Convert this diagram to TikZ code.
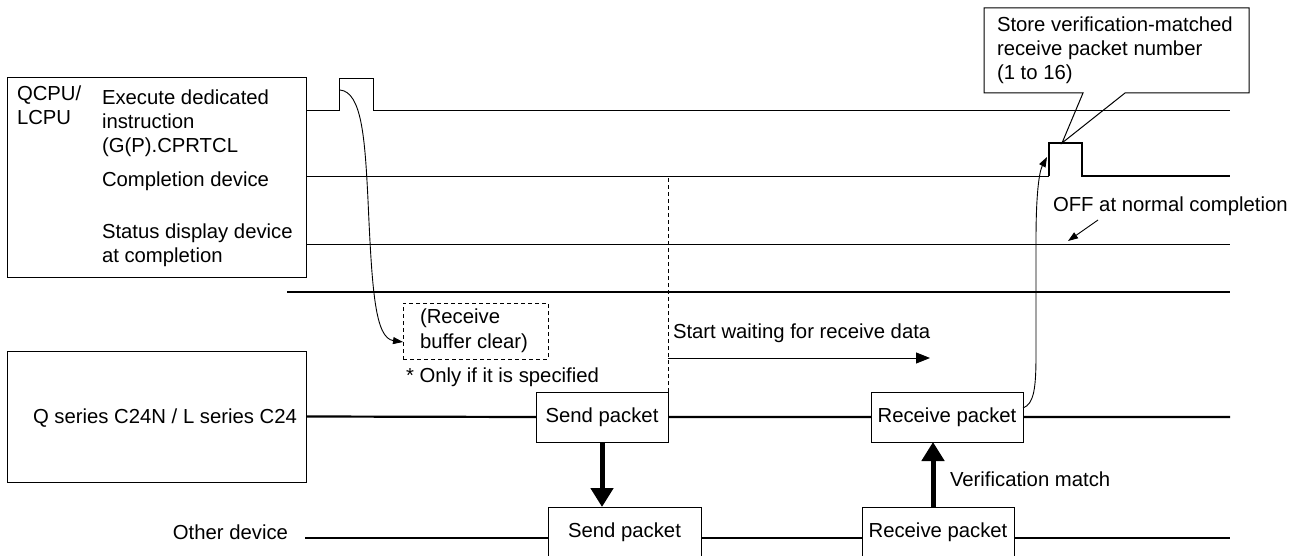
\documentclass[tikz,border=0pt]{standalone}
\usepackage{fontspec}
\setmainfont{Liberation Sans}
\usetikzlibrary{arrows.meta}
\begin{document}
\begin{tikzpicture}[x=1pt,y=-1pt,
  every node/.style={font=\fontsize{20.3}{24}\selectfont, inner sep=0pt, outer sep=0pt},
  lbl/.style={anchor=base west},
  lblr/.style={anchor=base east},
  frame/.style={draw, line width=1pt, anchor=north west},
  pkt/.style={draw, line width=1pt, fill=white, minimum height=50pt},
  sig/.style={line width=0.9pt},
  bus/.style={line width=2.2pt},
  bigarrow/.style={line width=5pt, -{Triangle[width=22pt,length=19pt]}},
  thinarrow/.style={line width=0.9pt, -{Triangle[width=11pt,length=14pt]}},
  smallarrow/.style={line width=0.9pt, -{Triangle[width=7pt,length=10pt]}},
  dashpat/.style={line width=0.9pt, dash pattern=on 4pt off 3pt}
]
\useasboundingbox (0,0) rectangle (1301,556);

% CPU frame and labels
\node[frame, minimum width=299pt, minimum height=199pt] (cpu) at (7,78) {};
\node[lbl] (q1) at (17,101) {QCPU/};
\node[lbl] (q2) at (17,125) {LCPU};
\node[lbl] (e1) at (102,105) {Execute dedicated};
\node[lbl] (e2) at (102,129) {instruction};
\node[lbl] (e3) at (102,153) {(G(P).CPRTCL};
\node[lbl] (c1) at (102,187) {Completion device};
\node[lbl] (s1) at (102,238) {Status display device};
\node[lbl] (s2) at (102,262) {at completion};

% signals
\coordinate (exS) at (306,110);
\coordinate (exE) at (1230,110);
\coordinate (exP) at (340,90);
\draw[sig] (exS) -- (339,110) -- (339,78) -- (373,78) -- (373,110) -- (exE);
\coordinate (cpS) at (306,176);
\coordinate (cpE) at (1230,176);
\coordinate (cpP) at (1047,157);
\coordinate (cpT) at (1062,143);
\draw[sig] (cpS) -- (1049,176);
\draw[line width=2pt] (1049,176) -- (1049,143) -- (1082,143) -- (1082,176) -- (cpE);
\coordinate (stS) at (306,244);
\coordinate (stE) at (1230,244);
\draw[sig] (stS) -- (stE);
\coordinate (sepS) at (287,292);
\coordinate (sepE) at (1230,292);
\draw[line width=2.5pt] (sepS) -- (sepE);

% callout
\draw[line width=1pt] (984,8) -- (1249,8) -- (1249,93) -- (1125,93) -- (cpT) -- (1083,93) -- (984,93) -- cycle;
\node[lbl] (cl1) at (997,32) {Store verification-matched};
\node[lbl] (cl2) at (997,56) {receive packet number};
\node[lbl] (cl3) at (997,80) {(1 to 16)};

% OFF at normal completion
\node[lbl] (off) at (1053,212) {OFF at normal completion};
\coordinate (offA) at (1098,220);
\coordinate (offB) at (1068,241);
\draw[smallarrow] (offA) -- (offB);

% receive buffer clear
\node[draw, dashpat, minimum width=145pt, minimum height=56pt, anchor=north west] (rbc) at (403,303) {};
\node[lbl] (r1) at (420,323) {(Receive};
\node[lbl] (r2) at (420,348) {buffer clear)};
\node[lbl] (only) at (406,382) {* Only if it is specified};
\draw[smallarrow] (exP) .. controls (362,92) and (365,140) .. (368,200)
   .. controls (372,290) and (375,338) .. ([yshift=-11pt]rbc.west);

% Q series frame
\node[frame, minimum width=299pt, minimum height=131pt] (qbox) at (7,351) {};
\node[lblr] (qlab) at (297,423) {Q series C24N / L series C24};

% packets
\node[pkt, minimum width=132pt] (sendQ) at (602,417) {Send packet};
\node[pkt, minimum width=152pt] (recvQ) at (947,417) {Receive packet};
\node[pkt, minimum width=153pt] (sendO) at (624.5,532) {Send packet};
\node[pkt, minimum width=152pt] (recvO) at (938,532) {Receive packet};

\coordinate (qE) at (1230,417);
\draw[bus] (qbox.east) -- (sendQ.west) (sendQ.east) -- (recvQ.west) (recvQ.east) -- (qE);

\node[lblr] (olab) at (288,539) {Other device};
\coordinate (oS) at (305,538);
\coordinate (oE) at (1230,538);
\draw[bus] (oS) -- (oS -| sendO.west) (oS -| sendO.east) -- (oS -| recvO.west) (oS -| recvO.east) -- (oE);

% dashed wait line
\draw[dashpat] (sendQ.north east) -- (sendQ.north east |- cpS);
\node[lbl] (wait) at (673,338) {Start waiting for receive data};
\coordinate (waitS) at (668,358);
\coordinate (waitE) at (930,358);
\draw[thinarrow] (waitS) -- (waitE);

% big arrows
\draw[bigarrow] (sendQ.south) -- (sendQ.south |- sendO.north);
\draw[bigarrow] ([xshift=-5pt]recvO.north) -- ([xshift=-5pt]recvO.north |- recvQ.south);
\node[lbl] (ver) at (950,486) {Verification match};

% receive to completion
\draw[smallarrow] ([yshift=9pt]recvQ.east) .. controls (1034,404) and (1036,388) .. (1036,355)
   -- (1036,240) .. controls (1036,195) and (1039,172) .. (cpP);
\end{tikzpicture}
\end{document}
